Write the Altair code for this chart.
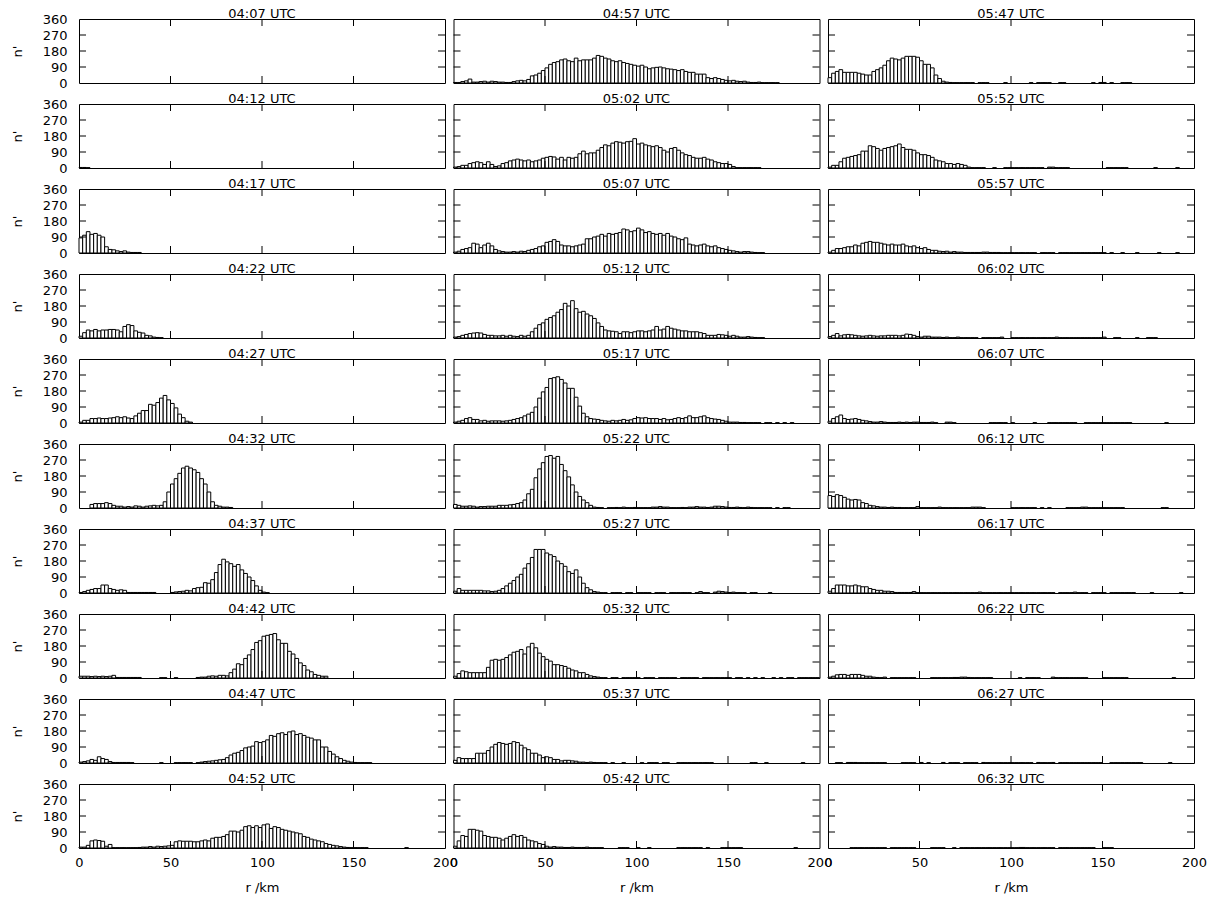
import altair as alt
import pandas as pd

# ---- panel titles (column-major order: col1 top->bottom, then col2, col3)
times = [
    "04:07 UTC", "04:12 UTC", "04:17 UTC", "04:22 UTC", "04:27 UTC",
    "04:32 UTC", "04:37 UTC", "04:42 UTC", "04:47 UTC", "04:52 UTC",
    "04:57 UTC", "05:02 UTC", "05:07 UTC", "05:12 UTC", "05:17 UTC",
    "05:22 UTC", "05:27 UTC", "05:32 UTC", "05:37 UTC", "05:42 UTC",
    "05:47 UTC", "05:52 UTC", "05:57 UTC", "06:02 UTC", "06:07 UTC",
    "06:12 UTC", "06:17 UTC", "06:22 UTC", "06:27 UTC", "06:32 UTC",
]

bin_width_km = 2
x_ticks = [0, 50, 100, 150, 200]
y_ticks = [0, 90, 180, 270, 360]

# ---- n' per 2-km range bin, starting at r = 0 km (missing tail = 0)
n_0407 = []
n_0412 = [3, 3, 2]
n_0417 = [85, 100, 120, 105, 110, 100, 90, 35, 20, 18, 12, 8, 12, 5, 3, 3, 3]
n_0422 = [10, 30, 45, 40, 48, 40, 45, 45, 48, 48, 45, 35, 65, 75, 70, 40, 32, 28, 15, 12, 5, 3, 2]
n_0427 = [5, 15, 15, 25, 25, 28, 25, 25, 28, 30, 35, 30, 35, 28, 25, 40, 55, 70, 70, 105, 100, 115,
          140, 155, 130, 110, 85, 50, 30, 10, 5]
n_0432 = [0, 0, 0, 20, 25, 25, 25, 30, 25, 15, 10, 10, 5, 8, 5, 12, 10, 5, 10, 12, 15, 12, 15, 35,
          90, 135, 165, 195, 225, 235, 225, 215, 200, 165, 135, 90, 35, 15, 10, 5, 5, 3]
n_0437 = [3, 8, 15, 20, 25, 25, 45, 45, 25, 20, 15, 18, 15, 3, 3, 3, 3, 3, 3, 3, 3, 0, 0, 0, 0,
          3, 6, 8, 10, 15, 12, 25, 30, 32, 58, 55, 75, 115, 160, 190, 175, 165, 150, 160, 130, 110,
          90, 70, 40, 15, 5, 2]
n_0442 = [10, 10, 10, 8, 10, 8, 10, 8, 10, 15, 3, 3, 3, 3, 3, 3, 3, 0, 0, 0, 0, 0, 2, 2, 0, 0, 2,
          0, 0, 0, 0, 0, 3, 5, 5, 10, 12, 10, 15, 15, 12, 30, 50, 80, 75, 110, 130, 160, 200, 210,
          235, 240, 245, 250, 215, 195, 195, 150, 135, 110, 85, 70, 45, 35, 20, 15, 10, 10]
n_0447 = [5, 8, 12, 20, 15, 35, 25, 20, 8, 3, 3, 3, 3, 3, 2, 0, 0, 0, 0, 0, 0, 0, 2, 0, 0, 0, 2,
          2, 2, 2, 2, 0, 2, 5, 8, 10, 12, 15, 18, 20, 30, 45, 55, 60, 70, 85, 90, 95, 120, 115, 120,
          130, 155, 150, 165, 170, 160, 175, 180, 160, 165, 155, 145, 140, 130, 130, 90, 90, 65,
          50, 35, 25, 15, 10, 5, 3, 2, 2, 2, 2]
n_0452 = [5, 5, 15, 40, 45, 42, 38, 10, 20, 2, 2, 2, 2, 2, 2, 2, 3, 5, 5, 8, 5, 10, 8, 10, 12, 15,
          35, 40, 38, 38, 38, 35, 35, 40, 45, 40, 55, 60, 60, 65, 75, 95, 95, 90, 100, 120, 125,
          115, 125, 115, 130, 135, 110, 120, 115, 105, 100, 95, 90, 85, 80, 65, 60, 50, 45, 40, 35,
          25, 20, 15, 12, 8, 5, 3, 2, 2, 2, 2, 2, 0, 0, 0, 0, 0, 0, 0, 0, 0, 0, 2]
n_0457 = [3, 3, 8, 12, 22, 5, 5, 8, 10, 5, 10, 8, 5, 5, 3, 3, 8, 12, 15, 12, 20, 40, 45, 55, 70,
          85, 105, 115, 120, 130, 135, 125, 120, 140, 125, 130, 130, 130, 140, 155, 150, 140, 135,
          125, 120, 125, 115, 110, 105, 100, 95, 100, 90, 80, 85, 88, 90, 85, 80, 78, 75, 70, 75,
          65, 60, 60, 50, 50, 50, 30, 25, 30, 25, 20, 15, 12, 15, 10, 8, 10, 5, 3, 3, 5, 2, 2, 2,
          2, 2]
n_0502 = [5, 8, 15, 15, 25, 30, 35, 30, 20, 35, 20, 8, 12, 25, 30, 40, 45, 50, 45, 40, 45, 35, 40,
          45, 55, 60, 65, 62, 50, 60, 45, 60, 55, 60, 80, 95, 80, 85, 85, 100, 115, 130, 125, 140,
          148, 145, 140, 148, 150, 165, 135, 140, 130, 125, 120, 125, 115, 100, 90, 110, 115, 100,
          85, 75, 70, 60, 55, 55, 60, 50, 45, 35, 30, 25, 25, 20, 8, 2, 2, 2, 2, 2, 2, 2]
n_0507 = [5, 10, 20, 25, 30, 55, 50, 30, 45, 55, 40, 20, 12, 8, 5, 5, 8, 5, 10, 8, 15, 20, 25, 35,
          40, 60, 65, 75, 65, 45, 40, 40, 35, 40, 45, 50, 80, 80, 90, 95, 105, 95, 110, 105, 110,
          115, 135, 130, 120, 125, 140, 130, 115, 120, 110, 105, 110, 100, 110, 95, 90, 80, 75, 85,
          50, 45, 40, 45, 50, 40, 35, 40, 30, 25, 20, 15, 12, 8, 5, 8, 8, 5, 3, 2, 2]
n_0512 = [5, 8, 15, 20, 25, 28, 30, 28, 20, 15, 15, 12, 12, 15, 10, 15, 10, 8, 15, 10, 15, 35, 55,
          75, 85, 105, 115, 125, 145, 160, 195, 180, 210, 165, 145, 150, 135, 125, 110, 85, 65, 45,
          40, 38, 35, 25, 35, 35, 30, 35, 40, 40, 35, 40, 45, 65, 45, 50, 65, 55, 50, 45, 40, 40,
          35, 35, 35, 30, 25, 15, 15, 15, 20, 18, 15, 10, 15, 10, 5, 5, 8, 5, 3, 2, 2]
n_0517 = [5, 10, 15, 25, 30, 20, 20, 12, 15, 10, 12, 12, 12, 10, 12, 15, 20, 25, 30, 40, 50, 60,
          90, 140, 175, 200, 250, 255, 260, 245, 225, 195, 195, 145, 95, 55, 35, 25, 22, 20, 15, 12,
          10, 15, 12, 15, 20, 15, 18, 25, 30, 28, 30, 25, 25, 25, 20, 25, 18, 20, 25, 30, 25, 30,
          40, 30, 30, 35, 40, 30, 25, 22, 20, 15, 10, 5, 5, 5, 3, 3, 2, 2, 2, 2, 0, 2, 2, 0, 2, 0,
          2, 0, 2]
n_0522 = [20, 15, 10, 10, 12, 10, 5, 8, 8, 10, 10, 10, 15, 15, 15, 18, 20, 25, 30, 45, 80, 105,
          170, 220, 255, 290, 295, 280, 290, 245, 210, 175, 130, 90, 65, 45, 30, 15, 5, 3, 2, 0, 2,
          2, 3, 2, 5, 2, 2, 3, 2, 2, 2, 2, 5, 5, 8, 5, 5, 2, 2, 2, 3, 2, 5, 5, 8, 5, 5, 3, 5, 10,
          10, 8, 5, 3, 3, 5, 3, 2, 5, 3, 2, 2, 2, 2, 2, 0, 2, 0, 2, 2]
n_0527 = [10, 25, 15, 15, 15, 15, 15, 15, 12, 12, 8, 10, 15, 25, 40, 55, 70, 90, 105, 140, 165,
          200, 245, 245, 245, 225, 215, 205, 180, 165, 150, 120, 110, 130, 90, 55, 30, 18, 8, 5, 2,
          2, 0, 2, 2, 2, 0, 2, 2, 0, 2, 2, 2, 2, 0, 2, 2, 2, 0, 2, 2, 2, 2, 2, 2, 0, 2, 8, 2, 2, 0,
          5, 10, 8, 5, 3, 5, 2, 2, 2, 0, 2, 2, 0, 0, 0, 2]
n_0532 = [10, 25, 40, 35, 30, 30, 30, 30, 30, 60, 100, 105, 100, 105, 115, 130, 145, 150, 160, 135,
          175, 195, 170, 140, 120, 105, 95, 75, 75, 70, 65, 55, 45, 40, 30, 30, 20, 12, 8, 5, 2, 2,
          0, 2, 2, 0, 2, 2, 2, 2, 2, 0, 2, 2, 2, 0, 2, 2, 2, 2, 2, 0, 2, 2, 2, 2, 2, 0, 2, 2, 2, 2,
          2, 2, 2, 2, 0, 2, 2, 0, 2, 0, 2, 0, 2, 0, 0, 2, 0, 2, 0, 2, 2, 0, 2, 2, 2, 2, 2, 2]
n_0537 = [15, 30, 25, 25, 25, 25, 55, 55, 55, 70, 90, 105, 115, 110, 105, 110, 120, 115, 100, 85,
          75, 55, 55, 45, 30, 35, 30, 20, 20, 12, 15, 15, 12, 10, 5, 5, 3, 5, 3, 2, 2, 2, 0, 2, 0,
          0, 2, 0, 0, 0, 0, 2, 0, 2, 2, 2, 0, 2, 2, 0, 0, 2, 2, 2, 2, 2, 2, 2, 2, 2, 2, 0, 0, 0, 0,
          0, 0, 0, 0, 0, 0, 2, 2, 0, 0, 2, 0, 0, 0, 0, 0, 0, 0, 0, 0, 2]
n_0542 = [10, 40, 70, 65, 105, 105, 100, 95, 70, 65, 60, 60, 55, 45, 55, 65, 75, 65, 70, 60, 45,
          40, 35, 25, 20, 10, 5, 8, 5, 5, 3, 3, 5, 3, 3, 3, 5, 2, 2, 2, 2, 0, 0, 0, 0, 2, 2, 2, 0,
          0, 2, 0, 0, 2, 0, 0, 0, 0, 0, 0, 0, 2, 2, 2, 2, 2, 2, 2, 0, 2, 0, 0, 0, 2, 2, 2, 2, 2, 2,
          0, 0, 0, 0, 0, 0, 0, 0, 0, 0, 0, 0, 0, 0, 2]
n_0547 = [30, 55, 65, 75, 60, 60, 60, 60, 55, 50, 45, 45, 65, 75, 85, 100, 125, 140, 135, 130, 140,
          150, 150, 150, 145, 125, 105, 105, 85, 45, 25, 10, 5, 3, 2, 2, 2, 2, 2, 2, 0, 2, 2, 2, 0,
          0, 0, 0, 2, 0, 0, 0, 0, 0, 0, 2, 0, 2, 2, 2, 2, 0, 0, 2, 2, 0, 0, 0, 0, 0, 0, 0, 2, 0, 3,
          3, 0, 2, 0, 0, 2, 2, 2]
n_0552 = [5, 15, 15, 35, 55, 60, 65, 70, 75, 95, 95, 125, 120, 110, 100, 110, 115, 120, 125, 135,
          115, 105, 105, 100, 85, 75, 75, 70, 60, 45, 40, 35, 25, 25, 20, 25, 20, 15, 5, 2, 2, 2, 2,
          0, 0, 2, 0, 0, 2, 2, 2, 2, 2, 2, 2, 2, 2, 2, 2, 0, 5, 5, 2, 2, 2, 2, 0, 0, 0, 0, 0, 0, 0,
          0, 0, 0, 2, 2, 2, 2, 2, 2, 0, 0, 0, 0, 0, 0, 0, 2, 0, 0, 0, 0, 0, 2]
n_0557 = [5, 15, 25, 25, 30, 35, 35, 45, 40, 55, 60, 65, 60, 60, 55, 50, 45, 50, 45, 45, 50, 40, 35,
          40, 30, 25, 30, 20, 15, 15, 10, 8, 10, 5, 8, 5, 5, 3, 3, 3, 3, 3, 5, 5, 3, 3, 3, 2, 2, 2,
          2, 2, 2, 2, 2, 2, 2, 0, 2, 2, 2, 2, 0, 2, 2, 2, 2, 2, 2, 2, 2, 2, 2, 2, 2, 2, 0, 2, 0, 0,
          2, 0, 0, 0, 2, 0, 0, 0, 0, 0, 2, 0, 0, 0, 0, 2]
n_0602 = [8, 15, 25, 12, 18, 20, 18, 15, 12, 10, 12, 15, 12, 10, 12, 12, 15, 15, 15, 12, 15, 22,
          20, 15, 8, 5, 10, 10, 5, 5, 5, 3, 5, 2, 2, 5, 2, 2, 2, 2, 2, 0, 2, 2, 2, 2, 2, 5, 0, 0,
          2, 2, 2, 2, 2, 2, 2, 2, 2, 2, 2, 2, 5, 2, 2, 2, 2, 2, 2, 2, 2, 2, 2, 2, 2, 5, 0, 0, 2, 2,
          0, 0, 0, 0, 2, 0, 0, 2, 2, 2]
n_0607 = [10, 25, 35, 45, 25, 20, 22, 25, 20, 15, 12, 8, 5, 5, 8, 5, 3, 3, 3, 5, 3, 5, 3, 5, 5, 3,
          3, 3, 5, 2, 0, 0, 5, 5, 2, 0, 0, 0, 0, 0, 0, 0, 0, 0, 2, 2, 2, 2, 2, 0, 2, 0, 0, 0, 0, 0,
          2, 0, 0, 0, 2, 2, 2, 2, 2, 2, 2, 2, 0, 0, 2, 2, 2, 2, 2, 2, 2, 2, 2, 2, 2, 2, 2, 0, 0, 0,
          0, 0, 0, 0, 0, 0, 2]
n_0612 = [70, 65, 75, 70, 60, 50, 45, 48, 45, 30, 25, 15, 12, 8, 5, 5, 3, 5, 3, 3, 2, 2, 2, 2, 8,
          2, 2, 2, 2, 2, 5, 2, 2, 2, 2, 2, 2, 2, 2, 5, 5, 5, 2, 0, 0, 0, 0, 0, 0, 0, 2, 2, 2, 2, 2,
          2, 2, 0, 2, 0, 2, 0, 0, 0, 0, 2, 2, 2, 2, 5, 5, 2, 2, 2, 2, 2, 2, 2, 2, 2, 2, 0, 0, 0, 0,
          0, 0, 0, 0, 0, 0, 2, 2]
n_0617 = [10, 25, 45, 45, 45, 40, 40, 45, 40, 35, 35, 25, 20, 15, 15, 10, 10, 8, 3, 3, 3, 3, 3, 8,
          2, 2, 2, 2, 2, 2, 2, 2, 2, 2, 2, 2, 2, 2, 2, 2, 2, 5, 2, 2, 2, 2, 2, 2, 2, 2, 2, 2, 2, 2,
          2, 2, 2, 2, 2, 2, 2, 2, 0, 2, 2, 2, 2, 5, 2, 2, 2, 0, 2, 2, 2, 2, 0, 2, 2, 2, 2, 2, 2, 2,
          0, 0, 0, 0, 2, 0, 0, 0, 0, 0, 0, 0, 2]
n_0622 = [5, 10, 18, 20, 20, 15, 20, 20, 20, 15, 10, 10, 5, 3, 2, 5, 0, 2, 2, 2, 2, 2, 2, 2, 0, 0,
          0, 0, 2, 2, 2, 2, 2, 2, 3, 3, 5, 5, 3, 2, 2, 2, 2, 2, 2, 0, 0, 0, 0, 0, 0, 0, 2, 0, 2, 2,
          2, 2, 0, 0, 0, 5, 2, 2, 2, 2, 2, 2, 2, 2, 2, 0, 0, 0, 0, 2, 2, 2, 2, 2, 2, 2, 0, 0, 0, 0,
          0, 0, 0, 0, 0, 0, 0, 0, 2]
n_0627 = [0, 0, 2, 2, 0, 3, 3, 3, 2, 2, 2, 2, 2, 2, 2, 2, 0, 0, 0, 0, 2, 2, 2, 2, 0, 3, 0, 2, 0, 0,
          0, 3, 0, 2, 2, 2, 0, 2, 2, 2, 2, 0, 3, 2, 2, 2, 2, 2, 2, 2, 2, 2, 2, 2, 2, 2, 0, 3, 2, 2,
          2, 3, 0, 2, 2, 2, 2, 2, 2, 2, 2, 2, 2, 2, 2, 0, 0, 2, 2, 2, 2, 2, 2, 2, 2, 2, 0, 0, 0, 0,
          0, 0, 0, 2]
n_0632 = [0, 0, 0, 0, 0, 0, 2, 2, 2, 2, 2, 2, 2, 2, 2, 2, 0, 2, 2, 2, 2, 2, 2, 2, 0, 0, 0, 0, 2, 2,
          2, 2, 0, 0, 2, 0, 2, 2, 2, 2, 2, 2, 2, 2, 2, 2, 2, 2, 2, 2, 2, 2, 3, 3, 2, 2, 2, 2, 2, 2,
          2, 2, 0, 2, 2, 2, 2, 2, 2, 2, 2, 2, 2, 0, 0, 2, 2, 2]

counts = [
    n_0407, n_0412, n_0417, n_0422, n_0427, n_0432, n_0437, n_0442, n_0447, n_0452,
    n_0457, n_0502, n_0507, n_0512, n_0517, n_0522, n_0527, n_0532, n_0537, n_0542,
    n_0547, n_0552, n_0557, n_0602, n_0607, n_0612, n_0617, n_0622, n_0627, n_0632,
]

FONT = "DejaVu Sans"
W = 366
H = 64
TICK = 7

xscale = alt.Scale(domain=[0, 200], nice=False, zero=False)
yscale = alt.Scale(domain=[0, 360], nice=False)


def panel(idx):
    col, row = idx // 10, idx % 10
    vals = counts[idx]
    df = pd.DataFrame({
        "r0": [i * bin_width_km for i in range(len(vals))],
        "n": vals,
    })
    df["r1"] = df["r0"] + bin_width_km
    df = df[df["n"] > 0]

    if row == 9:
        xaxis = alt.Axis(values=x_ticks, title="r /km", labelPadding=8, titlePadding=12,
                         labelFlush=False, labelOverlap=False, format="d")
    else:
        xaxis = None
    if col == 0:
        yaxis = alt.Axis(values=y_ticks, title="n'", labelPadding=12, titlePadding=18,
                         labelOverlap=False, format="d")
    else:
        yaxis = None

    bars = alt.Chart(df).mark_rect(fill="white", stroke="black", strokeWidth=1).encode(
        x=alt.X("r0:Q", scale=xscale, axis=xaxis),
        x2="r1:Q",
        y=alt.Y("n:Q", scale=yscale, axis=yaxis),
        y2=alt.datum(0),
    )
    xt = pd.DataFrame({"t": x_ticks[1:-1]})
    yt = pd.DataFrame({"t": y_ticks[1:-1]})
    top = alt.Chart(xt).mark_rule(color="black", strokeWidth=1).encode(
        x=alt.X("t:Q", scale=xscale, axis=xaxis), y=alt.value(0), y2=alt.value(TICK))
    bot = alt.Chart(xt).mark_rule(color="black", strokeWidth=1).encode(
        x=alt.X("t:Q", scale=xscale, axis=xaxis), y=alt.value(H), y2=alt.value(H - TICK))
    left = alt.Chart(yt).mark_rule(color="black", strokeWidth=1).encode(
        y=alt.Y("t:Q", scale=yscale, axis=yaxis), x=alt.value(0), x2=alt.value(TICK))
    right = alt.Chart(yt).mark_rule(color="black", strokeWidth=1).encode(
        y=alt.Y("t:Q", scale=yscale, axis=yaxis), x=alt.value(W), x2=alt.value(W - TICK))

    title_offset = -8 if col == 0 else -2
    return alt.layer(bars, top, bot, left, right).properties(
        width=W, height=H,
        title=alt.TitleParams(text=times[idx], fontSize=13, font=FONT, fontWeight="normal",
                              color="black", offset=title_offset, anchor="middle"),
    )


# row-major order for a 3-column grid
panels = [panel(c * 10 + r) for r in range(10) for c in range(3)]

chart = alt.concat(*panels, columns=3, spacing={"row": 21, "column": 8.5}, bounds="flush").properties(
    padding={"left": 10, "top": 7, "right": 4, "bottom": 0},
    background="white",
).configure_view(
    stroke="black", strokeWidth=1,
).configure_axis(
    labelFont=FONT, titleFont=FONT, labelFontSize=13, titleFontSize=13,
    labelColor="black", titleColor="black", titleFontWeight="normal",
    ticks=False, domain=False, grid=False,
)

chart.save("out.html", embed_options={"renderer": "svg", "actions": False})
